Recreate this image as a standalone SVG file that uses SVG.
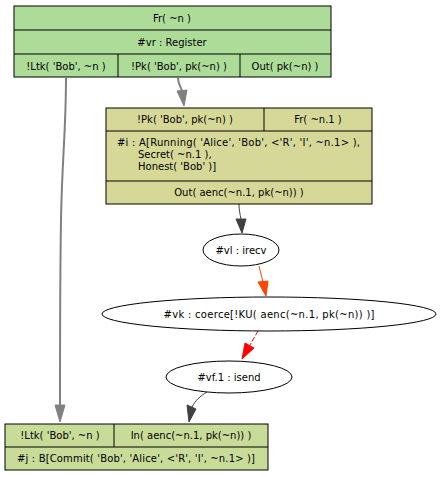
<svg xmlns="http://www.w3.org/2000/svg" width="442" height="477" viewBox="0 0 442 477">
<style>
text{font-family:"DejaVu Sans",sans-serif;font-size:10px;fill:#000;text-anchor:middle}
.l{text-anchor:start}
.box{stroke:#000;stroke-width:1}
.sep{stroke:#000;stroke-width:1;fill:none}
.ell{fill:#fff;stroke:#000;stroke-width:1}
</style>
<rect width="442" height="477" fill="#fff"/>
<g id="edges">
<path d="M66,78 C66,130 62,160 61,220 C60,280 60,360 60,405" fill="none" stroke="#808080" stroke-width="2"/>
<polygon points="55,405 65,405 60,422" fill="#808080" stroke="#808080"/>
<path d="M178,78 C178,84 181,87 182,91" fill="none" stroke="#808080" stroke-width="2"/>
<polygon points="177,91 187,90 184,106" fill="#808080" stroke="#808080"/>
<path d="M239,204 C239,210 240,214 241,219" fill="none" stroke="#404040"/>
<polygon points="236,219 246,219 242,233" fill="#404040" stroke="#404040"/>
<path d="M259,266 L263,282" fill="none" stroke="#ff4500"/>
<polygon points="258,282 268,281 266,296" fill="#ff4500" stroke="#ff4500"/>
<path d="M258,331 L250,345" fill="none" stroke="#ff0000" stroke-dasharray="5,2"/>
<polygon points="245,343 254,348 242,359" fill="#ff0000" stroke="#ff0000"/>
<path d="M207,392 C200,396 195,401 192,407" fill="none" stroke="#404040"/>
<polygon points="187,405 196,409 189,422" fill="#404040" stroke="#404040"/>
</g>
<g id="n_top">
<rect class="box" x="14" y="6" width="317" height="71" fill="#addc99"/>
<path class="sep" d="M14,30H331M14,54H331M118,54V77M240,54V77"/>
<text x="172" y="21.5">Fr( ~n )</text>
<text x="172" y="45.5">#vr : Register</text>
<text x="66" y="69.5">!Ltk( 'Bob', ~n )</text>
<text x="179" y="69.5">!Pk( 'Bob', pk(~n) )</text>
<text x="285" y="69.5">Out( pk(~n) )</text>
</g>
<g id="n_i">
<rect class="box" x="106" y="108" width="266" height="96" fill="#d6d898"/>
<path class="sep" d="M106,131H372M106,181H372M264,108V131"/>
<text x="185" y="123">!Pk( 'Bob', pk(~n) )</text>
<text x="318" y="123">Fr( ~n.1 )</text>
<text class="l" x="117" y="145.5" textLength="243" lengthAdjust="spacing">#i : A[Running( 'Alice', 'Bob', &lt;'R', 'I', ~n.1&gt; ),</text>
<text class="l" x="138" y="157.5">Secret( ~n.1 ),</text>
<text class="l" x="138" y="169.5">Honest( 'Bob' )]</text>
<text x="239" y="196">Out( aenc(~n.1, pk(~n)) )</text>
</g>
<g id="n_vl">
<ellipse class="ell" cx="241" cy="250" rx="38" ry="16"/>
<text x="241" y="253.5">#vl : irecv</text>
</g>
<g id="n_vk">
<ellipse class="ell" cx="269" cy="314" rx="167" ry="17"/>
<text x="269" y="317.5" textLength="211" lengthAdjust="spacing">#vk : coerce[!KU( aenc(~n.1, pk(~n)) )]</text>
</g>
<g id="n_vf1">
<ellipse class="ell" cx="229" cy="377" rx="63" ry="16"/>
<text x="229" y="380.5">#vf.1 : isend</text>
</g>
<g id="n_j">
<rect class="box" x="5" y="424" width="263" height="46" fill="#c9db99"/>
<path class="sep" d="M5,447H268M114,424V447"/>
<text x="60" y="439">!Ltk( 'Bob', ~n )</text>
<text x="191" y="439">In( aenc(~n.1, pk(~n)) )</text>
<text x="136" y="462" textLength="238" lengthAdjust="spacing">#j : B[Commit( 'Bob', 'Alice', &lt;'R', 'I', ~n.1&gt; )]</text>
</g>
</svg>
